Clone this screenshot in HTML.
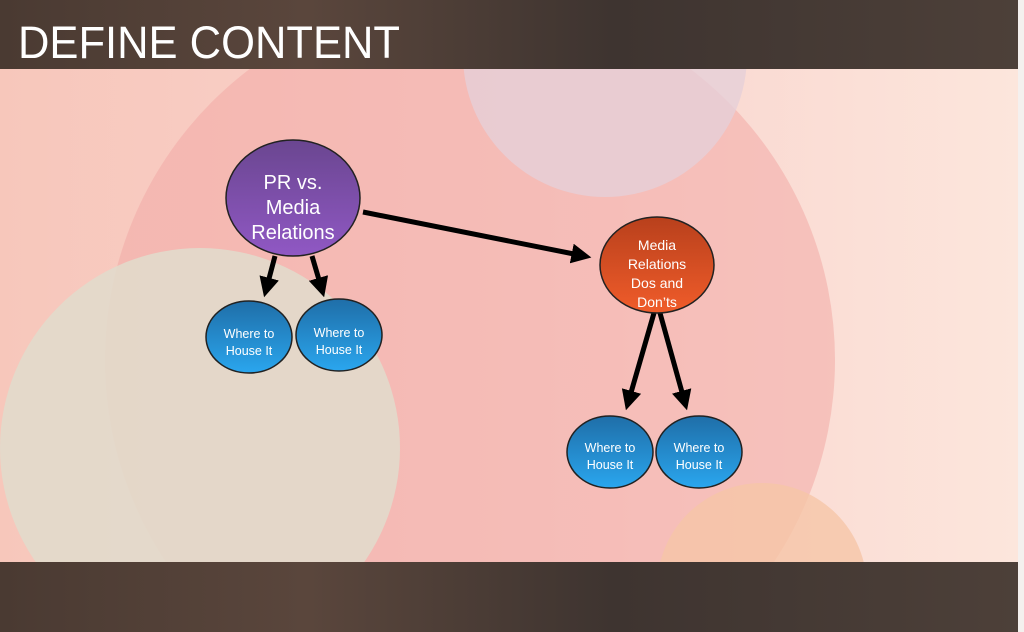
<!DOCTYPE html>
<html><head><style>
html,body{margin:0;width:1024px;height:632px;overflow:hidden;font-family:"Liberation Sans",sans-serif}
svg{display:block}
</style></head><body>
<svg width="1024" height="632" viewBox="0 0 1024 632" xmlns="http://www.w3.org/2000/svg">
<defs>
<linearGradient id="bg" x1="0" y1="0" x2="1" y2="0">
<stop offset="0" stop-color="#f7c7bb"/><stop offset="0.5" stop-color="#f9d2cc"/><stop offset="1" stop-color="#fce6dc"/></linearGradient>
<linearGradient id="wood" x1="0" y1="0" x2="1" y2="0">
<stop offset="0" stop-color="#4a3a32"/><stop offset="0.3" stop-color="#5a463c"/><stop offset="0.6" stop-color="#3e3430"/><stop offset="1" stop-color="#4d4039"/></linearGradient>
<linearGradient id="pur" x1="0" y1="0" x2="0" y2="1"><stop offset="0" stop-color="#6a4690"/><stop offset="1" stop-color="#9058c4"/></linearGradient>
<linearGradient id="blu" x1="0" y1="0" x2="0" y2="1"><stop offset="0" stop-color="#1f6ea8"/><stop offset="1" stop-color="#2aa6ee"/></linearGradient>
<linearGradient id="org" x1="0" y1="0" x2="0" y2="1"><stop offset="0" stop-color="#b8401c"/><stop offset="1" stop-color="#f05c2a"/></linearGradient>
<marker id="ah" markerWidth="4" markerHeight="4" refX="2.5" refY="2" orient="auto" markerUnits="strokeWidth"><path d="M0,0 L4,2 L0,4z" fill="#000"/></marker>
</defs>
<rect width="1024" height="632" fill="url(#bg)"/>
<circle cx="470" cy="360" r="365" fill="#f3aaa6" opacity="0.55"/>
<circle cx="605" cy="55" r="142" fill="#e6d0d8" opacity="0.8"/>
<circle cx="200" cy="448" r="200" fill="#e0dccc" opacity="0.85"/>
<circle cx="762" cy="588" r="105" fill="#f6c6a8" opacity="0.8"/>
<rect x="0" y="0" width="1024" height="69" fill="url(#wood)"/>
<rect x="0" y="562" width="1024" height="70" fill="url(#wood)"/>
<rect x="1018" y="0" width="6" height="632" fill="#f4f0ee"/>
<text x="18" y="58" font-size="45" fill="#fff" font-family="Liberation Sans" textLength="382" lengthAdjust="spacingAndGlyphs">DEFINE CONTENT</text>
<g stroke="#000" stroke-width="5" marker-end="url(#ah)">
<line x1="363" y1="212" x2="584" y2="256"/>
<line x1="275" y1="256" x2="266" y2="290"/>
<line x1="312" y1="256" x2="322" y2="290"/>
<line x1="654" y1="313" x2="628" y2="403"/>
<line x1="660" y1="313" x2="685" y2="403"/>
</g>
<g stroke="#222" stroke-width="1.5">
<ellipse cx="293" cy="198" rx="67" ry="58" fill="url(#pur)"/>
<ellipse cx="249" cy="337" rx="43" ry="36" fill="url(#blu)"/>
<ellipse cx="339" cy="335" rx="43" ry="36" fill="url(#blu)"/>
<ellipse cx="657" cy="265" rx="57" ry="48" fill="url(#org)"/>
<ellipse cx="610" cy="452" rx="43" ry="36" fill="url(#blu)"/>
<ellipse cx="699" cy="452" rx="43" ry="36" fill="url(#blu)"/>
</g>
<g fill="#fff" text-anchor="middle" font-family="Liberation Sans">
<text font-size="20"><tspan x="293" y="189">PR vs.</tspan><tspan x="293" y="214">Media</tspan><tspan x="293" y="239">Relations</tspan></text>
<text font-size="14"><tspan x="657" y="250">Media</tspan><tspan x="657" y="269">Relations</tspan><tspan x="657" y="288">Dos and</tspan><tspan x="657" y="307">Don’ts</tspan></text>
<g font-size="12.5">
<text><tspan x="249" y="338">Where to</tspan><tspan x="249" y="355">House It</tspan></text>
<text><tspan x="339" y="337">Where to</tspan><tspan x="339" y="354">House It</tspan></text>
<text><tspan x="610" y="452">Where to</tspan><tspan x="610" y="469">House It</tspan></text>
<text><tspan x="699" y="452">Where to</tspan><tspan x="699" y="469">House It</tspan></text>
</g></g>
</svg>
</body></html>
